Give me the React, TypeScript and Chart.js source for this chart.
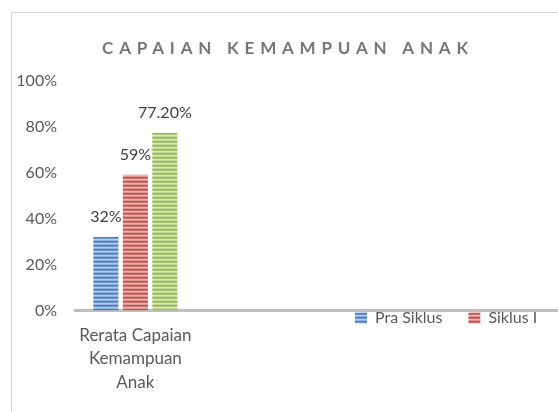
import React, { useEffect, useRef } from "react";
import { Chart, registerables } from "chart.js";

Chart.register(...registerables);

const chartTitle = "CAPAIAN KEMAMPUAN ANAK";
const categories: (string | string[])[] = [["Rerata Capaian", "Kemampuan", "Anak"], "", "", ""];
const seriesNames = ["Pra Siklus", "Siklus I", "Siklus II"];
const praSiklus = [32];
const siklusI = [59];
const siklusII = [77.2];
const labelDecimals = [0, 0, 2];
const yTicks = [0, 20, 40, 60, 80, 100];

const FONT = "Lato, 'Open Sans', sans-serif";

function stripe(colors: string[]): CanvasPattern | string {
  const c = document.createElement("canvas");
  c.width = 1;
  c.height = colors.length;
  const x = c.getContext("2d");
  if (!x) return colors[0];
  colors.forEach((col, i) => {
    x.fillStyle = col;
    x.fillRect(0, i, 1, 1);
  });
  return x.createPattern(c, "repeat") || colors[0];
}

export default function App() {
  const ref = useRef<HTMLCanvasElement | null>(null);

  useEffect(() => {
    if (!ref.current) return;
    const blue = stripe(["#4a7bbb", "#6f97cf", "#b3cbea", "#92b2de"]);
    const red = stripe(["#c0504d", "#d0736f", "#ebb3b1", "#de9896"]);
    const green = stripe(["#94b853", "#a9c76f", "#d9e8bf", "#c3da9c"]);

    const titlePatch = {
      id: "titlePatch",
      beforeDraw(chart: any) {
        const tb = chart.titleBlock;
        if (tb && !tb._patched) {
          const orig = tb.draw.bind(tb);
          tb.draw = (...args: any[]) => {
            const ctx = chart.ctx;
            ctx.save();
            (ctx as any).letterSpacing = "5.8px";
            ctx.translate(3, 0);
            orig(...args);
            ctx.restore();
          };
          tb._patched = true;
        }
      },
    };

    const legendMove = {
      id: "legendMove",
      afterLayout(chart: any) {
        const lg = chart.legend;
        if (!lg) return;
        const pad = lg.options.labels.padding;
        const w = lg.width;
        const h = lg.height;
        lg.left = 343 - pad;
        lg.right = lg.left + w;
        lg.top = 305 - pad - 8;
        lg.bottom = lg.top + h;
      },
    };

    const dataLabels = {
      id: "dataLabels",
      afterDatasetsDraw(chart: any) {
        const ctx = chart.ctx;
        ctx.save();
        ctx.font = `16px ${FONT}`;
        ctx.fillStyle = "#404040";
        ctx.textAlign = "center";
        ctx.textBaseline = "middle";
        chart.data.datasets.forEach((ds: any, i: number) => {
          const meta = chart.getDatasetMeta(i);
          meta.data.forEach((el: any, j: number) => {
            const v = ds.data[j];
            if (v == null) return;
            ctx.fillText(v.toFixed(labelDecimals[i]) + "%", el.x, el.y - 20);
          });
        });
        ctx.restore();
      },
    };

    const chart = new Chart(ref.current, {
      type: "bar",
      data: {
        labels: categories,
        datasets: [
          { label: seriesNames[0], data: praSiklus, backgroundColor: blue as any, borderWidth: 0 },
          { label: seriesNames[1], data: siklusI, backgroundColor: red as any, borderWidth: 0 },
          { label: seriesNames[2], data: siklusII, backgroundColor: green as any, borderWidth: 0 },
        ],
      },
      options: {
        responsive: false,
        animation: false,
        categoryPercentage: 0.733,
        barPercentage: 0.85,
        layout: { padding: { left: 0, right: 0, top: 0, bottom: 0 } },
        plugins: {
          title: {
            display: true,
            text: chartTitle,
            color: "#767676",
            font: { family: FONT, size: 17, weight: "bold" },
            padding: { top: 25, bottom: 22 },
          },
          legend: {
            display: true,
            position: "bottom",
            align: "start",
            labels: {
              boxWidth: 12,
              boxHeight: 11,
              padding: 26,
              color: "#595959",
              font: { family: FONT, size: 16 },
            },
          },
          tooltip: { enabled: false },
        },
        scales: {
          x: {
            grid: { drawOnChartArea: false, drawTicks: false },
            border: { display: true, width: 3, color: "#bfbfbf" },
            ticks: {
              padding: 13,
              color: "#595959",
              font: { family: FONT, size: 17, lineHeight: 1.38 },
              maxRotation: 0,
              autoSkip: false,
            },
          },
          y: {
            min: 0,
            max: 100,
            grid: { display: false, drawTicks: false },
            border: { display: false },
            afterBuildTicks(scale: any) {
              scale.ticks = yTicks.map((v) => ({ value: v }));
            },
            afterFit(scale: any) {
              scale.width = 63;
            },
            ticks: {
              padding: 18,
              color: "#595959",
              font: { family: FONT, size: 16 },
              callback: (v: any) => v + "%",
            },
          },
        },
      },
      plugins: [titlePatch, legendMove, dataLabels],
    });
    return () => chart.destroy();
  }, []);

  return (
    <div
      style={{
        position: "fixed",
        left: 0,
        top: 0,
        width: 558,
        height: 412,
        overflow: "hidden",
        background: "#fff",
      }}
    >
      <div
        style={{
          position: "absolute",
          left: 11,
          top: 12,
          width: 600,
          height: 500,
          border: "1px solid #d9d9d9",
          boxSizing: "border-box",
        }}
      >
        <canvas ref={ref} width={546} height={446} style={{ display: "block" }} />
      </div>
    </div>
  );
}
